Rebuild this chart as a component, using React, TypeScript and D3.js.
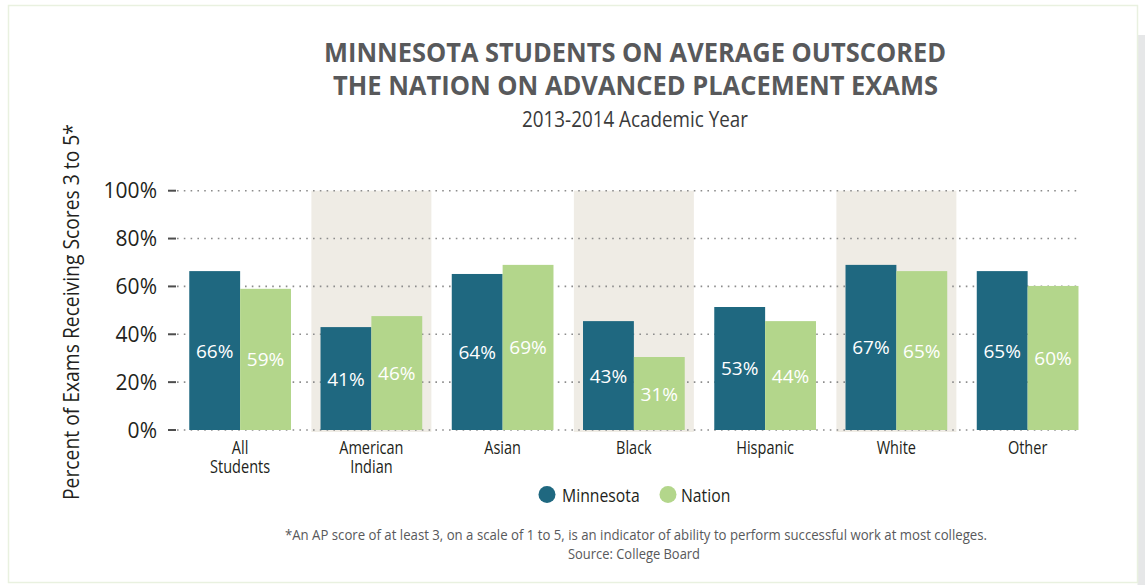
import React from 'react'
import { scaleBand, scaleLinear } from 'd3'

const categories = ['All Students', 'American Indian', 'Asian', 'Black', 'Hispanic', 'White', 'Other']
const categoryLines = [['All', 'Students'], ['American', 'Indian'], ['Asian'], ['Black'], ['Hispanic'], ['White'], ['Other']]
const series = ['Minnesota', 'Nation']
// bar heights as drawn in the picture, and the printed labels
const minnesotaBars = [66.4, 43, 65.2, 45.5, 51.4, 69, 66.4]
const nationBars = [59, 47.6, 69, 30.5, 45.5, 66.4, 60.2]
const minnesotaLabels = [66, 41, 64, 43, 53, 67, 65]
const nationLabels = [59, 46, 69, 31, 44, 65, 60]
const shadedCategories = ['American Indian', 'Black', 'White']
const yTicks = [0, 20, 40, 60, 80, 100]

const COLORS = { Minnesota: '#1f6880', Nation: '#b3d68b' }
const FONT = '"Open Sans", sans-serif'

const Cond: React.FC<{ x: number; y: number; sx?: number; anchor?: string; size: number; fill: string; children: React.ReactNode }> = ({
  x,
  y,
  sx = 0.83,
  anchor = 'middle',
  size,
  fill,
  children
}) => (
  <text transform={`translate(${x},${y}) scale(${sx},1)`} textAnchor={anchor} fontSize={size} fill={fill} fontFamily={FONT}>
    {children}
  </text>
)

export default function App() {
  const width = 1145
  const height = 585

  const x0 = scaleBand().domain(categories).range([174.5, 1093.25]).paddingInner(0.225).paddingOuter(0.1125)
  const x1 = scaleBand().domain(series).range([0, x0.bandwidth()])
  const y = scaleLinear().domain([0, 100]).range([430, 190.7])
  const center = (c: string) => (x0(c) as number) + x0.bandwidth() / 2

  const bars = [
    { key: 'Minnesota', values: minnesotaBars, labels: minnesotaLabels },
    { key: 'Nation', values: nationBars, labels: nationLabels }
  ]

  return (
    <svg width={width} height={height} style={{ position: 'absolute', left: 0, top: 0 }} fontFamily={FONT}>
      <rect x={0} y={0} width={width} height={height} fill="#fff" />
      {/* card frame */}
      <rect x={1137.5} y={35} width={8} height={550} fill="#e6e7e8" />
      <rect x={8.5} y={5.5} width={1129} height={577} fill="#fff" stroke="#e9f1e0" strokeWidth={1.5} />

      {/* title */}
      <text x={635} y={62} textAnchor="middle" fontSize={26} fontWeight={700} fill="#58595b" textLength={622} lengthAdjust="spacingAndGlyphs">
        MINNESOTA STUDENTS ON AVERAGE OUTSCORED
      </text>
      <text x={635.5} y={95} textAnchor="middle" fontSize={26} fontWeight={700} fill="#58595b" textLength={605} lengthAdjust="spacingAndGlyphs">
        THE NATION ON ADVANCED PLACEMENT EXAMS
      </text>
      <text x={635} y={127} textAnchor="middle" fontSize={21} fill="#3a3a3a" textLength={226} lengthAdjust="spacingAndGlyphs">
        2013-2014 Academic Year
      </text>

      {/* y axis title */}
      <text
        transform={`translate(79,${312}) rotate(-90)`}
        textAnchor="middle"
        fontSize={21}
        fill="#231f20"
        textLength={376}
        lengthAdjust="spacingAndGlyphs"
      >
        Percent of Exams Receiving Scores 3 to 5*
      </text>

      {/* shaded bands */}
      {shadedCategories.map((c) => (
        <rect key={c} x={center(c) - 60} y={y(100)} width={120} height={y(0) - y(100) + 2} fill="#efece5" />
      ))}

      {/* grid + ticks */}
      {yTicks.map((t) => (
        <g key={t}>
          <line x1={177} x2={1078} y1={y(t)} y2={y(t)} stroke="#8c8c8c" strokeWidth={1.6} strokeDasharray="1.6 5.2" />
          <line x1={168} x2={176} y1={y(t)} y2={y(t)} stroke="#4d4d4d" strokeWidth={2} />
          <text x={157} y={y(t) + 7.5} textAnchor="end" fontSize={21} fill="#231f20">
            {t}%
          </text>
        </g>
      ))}

      {/* bars */}
      {bars.map((s) =>
        categories.map((c, i) => {
          const bx = (x0(c) as number) + (x1(s.key) as number)
          const top = y(s.values[i])
          return (
            <g key={s.key + c}>
              <rect x={bx} y={top} width={x1.bandwidth()} height={y(0) - top} fill={COLORS[s.key as keyof typeof COLORS]} />
              <text x={bx + x1.bandwidth() / 2} y={(top + y(0)) / 2 + 7} textAnchor="middle" fontSize={19} fill="#fff">
                {s.labels[i]}%
              </text>
            </g>
          )
        })
      )}

      {/* category labels */}
      {categories.map((c, i) => (
        <Cond key={c} x={center(c)} y={454} size={17.5} fill="#231f20">
          {categoryLines[i].map((ln, j) => (
            <tspan key={ln} x={0} dy={j === 0 ? 0 : 19}>
              {ln}
            </tspan>
          ))}
        </Cond>
      ))}

      {/* legend */}
      <circle cx={547} cy={494.5} r={8.5} fill={COLORS.Minnesota} />
      <Cond x={562} y={501.5} size={19} fill="#231f20" anchor="start">
        Minnesota
      </Cond>
      <circle cx={668} cy={494.5} r={8.5} fill={COLORS.Nation} />
      <Cond x={681} y={501.5} size={19} fill="#231f20" anchor="start">
        Nation
      </Cond>

      {/* footnotes */}
      <text x={636} y={540} textAnchor="middle" fontSize={14.5} fill="#58595b" textLength={702} lengthAdjust="spacingAndGlyphs">
        *An AP score of at least 3, on a scale of 1 to 5, is an indicator of ability to perform successful work at most colleges.
      </text>
      <text x={634} y={559} textAnchor="middle" fontSize={15} fill="#58595b" textLength={132} lengthAdjust="spacingAndGlyphs">
        Source: College Board
      </text>
    </svg>
  )
}
